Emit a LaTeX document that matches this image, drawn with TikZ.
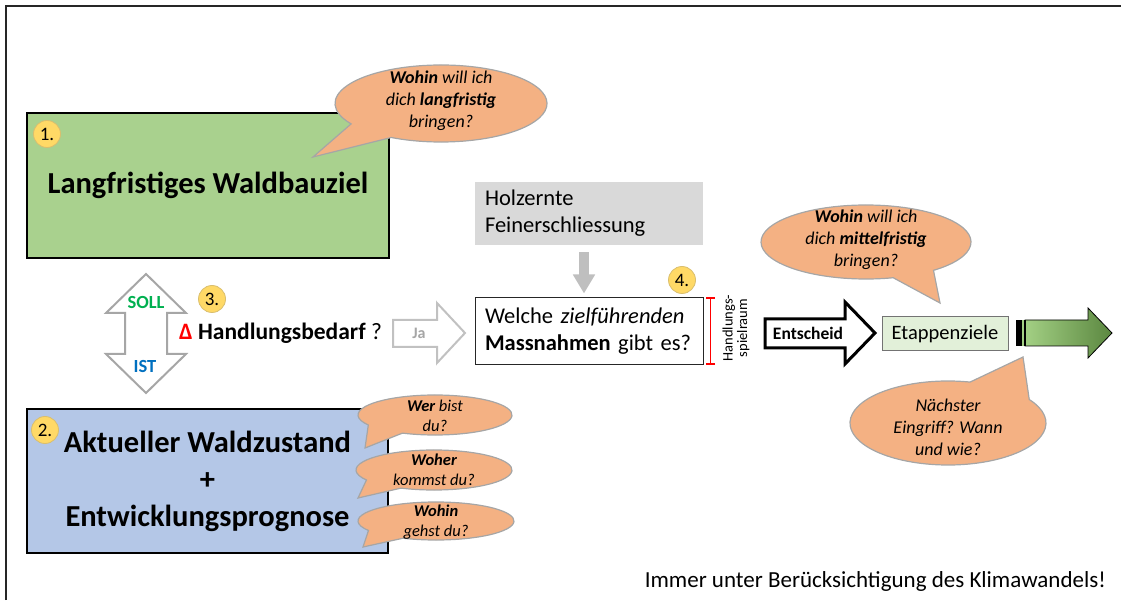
\documentclass[tikz,border=0pt]{standalone}
\usepackage{fontspec}
\setmainfont{Carlito}
\usetikzlibrary{arrows.meta,calc}
\definecolor{boxgreen}{HTML}{A9D18E}
\definecolor{boxblue}{HTML}{B4C7E7}
\definecolor{bubfill}{HTML}{F4B183}
\definecolor{bubline}{HTML}{A6A6A6}
\definecolor{badgefill}{HTML}{FFD966}
\definecolor{holzgray}{HTML}{D9D9D9}
\definecolor{arrgray}{HTML}{BFBFBF}
\definecolor{jagray}{HTML}{A6A6A6}
\definecolor{etapfill}{HTML}{E2F0D9}
\definecolor{sollgreen}{HTML}{00B050}
\definecolor{istblue}{HTML}{0070C0}
\definecolor{lightarr}{HTML}{A3D084}
\definecolor{darkarr}{HTML}{5B8740}
\newcommand\bub[8]{%
  \path[bubble] (#1,#2) ++(#5:#3pt and #4pt) arc[start angle=#5, end angle=#6, x radius=#3pt, y radius=#4pt] -- (#7,#8) -- cycle;}
\begin{document}
\begin{tikzpicture}[x=1pt,y=1pt,
  bigbox/.style={draw=black, line width=1.5pt, inner sep=0pt, font=\bfseries\fontsize{30.5}{37}\selectfont, align=center},
  badge/.style={circle, fill=badgefill, draw=badgefill!70!gray, line width=0.8pt, minimum size=27pt, inner sep=0pt, font=\fontsize{19}{19}\selectfont},
  bubble/.style={fill=bubfill, draw=bubline, line width=1.2pt},
  bubtext/.style={align=center, inner sep=0pt, font=\itshape\fontsize{18}{22}\selectfont},
  smalltext/.style={align=center, inner sep=0pt, font=\itshape\fontsize{16.5}{20.5}\selectfont},
  plainbox/.style={text width=208pt, align=left, inner xsep=10pt, inner ysep=0pt, minimum width=228pt, font=\fontsize{22.5}{27}\selectfont},
  ibeam/.style={red, line width=0.6pt, {Bar[width=9pt,line width=2pt]}-{Bar[width=9pt,line width=2pt]}}
]
\useasboundingbox (0,0) rectangle (1121,600);
% frame
\draw[line width=2pt, black!85] (6,0) -- (6,594) -- (1121,594);

% green box
\node[bigbox, fill=boxgreen, minimum width=362pt, minimum height=145pt] (ziel) at (208,414.5) {Langfristiges Waldbauziel};
\node[badge] (b1) at (47,466) {1.};
\bub{441}{496.5}{106}{38.5}{242}{572}{313}{443}
\node[bubtext] (t1) at (441,499) {\textbf{Wohin} will ich\\dich \textbf{langfristig}\\bringen?};

% blue box
\node[bigbox, fill=boxblue, minimum width=361pt, minimum height=144pt] (zustand) at (207.5,119) {Aktueller Waldzustand\\+\\Entwicklungsprognose};
\node[badge] (b2) at (45,170) {2.};
\bub{435}{185}{77}{20}{245}{570}{365}{152}
\node[smalltext] (t4) at (435,184) {\textbf{Wer} bist\\du?};
\bub{434}{130}{78}{20}{245}{570}{358}{102}
\node[smalltext] (t5) at (434,130) {\textbf{Woher}\\kommst du?};
\bub{436}{79}{78}{19}{245}{570}{363}{53}
\node[smalltext] (t6) at (436,78) {\textbf{Wohin}\\gehst du?};

% SOLL / IST double arrow
\draw[jagray, line width=2pt, fill=white] (146,326) -- (186,287) -- (167,287) -- (167,246) -- (186,246) -- (146,207) -- (106,246) -- (125,246) -- (125,287) -- (106,287) -- cycle;
\node[font=\bfseries\fontsize{18.5}{18.5}\selectfont, text=sollgreen] (soll) at (146,298) {SOLL};
\node[font=\bfseries\fontsize{18.5}{18.5}\selectfont, text=istblue] (ist) at (145,234) {IST};
\node[badge] (b3) at (212,301) {3.};
\node[anchor=west, inner sep=0pt, font=\fontsize{23.5}{23.5}\selectfont] (hb) at (179,267) {\textcolor{red}{\bfseries Δ} \textbf{Handlungsbedarf} ?};

% Ja arrow
\draw[jagray!70, line width=2pt, fill=white] (393,253) -- (393,280) -- (437,280) -- (437,297) -- (465,267) -- (437,237) -- (437,253) -- cycle;
\node[font=\bfseries\fontsize{16}{16}\selectfont, text=jagray] (ja) at (419,267) {Ja};

% Holzernte box and Massnahmen box
\node[plainbox, fill=holzgray, minimum height=63pt] (holz) at (589,386.5) {Holzernte\\Feinerschliessung};
\node[plainbox, draw=black!85, line width=1pt, fill=white, minimum height=67pt] (mass) at (589,268.5) {Welche \textit{zielführenden}\\\textbf{Massnahmen} gibt es?};
\draw[arrgray, line width=10pt, -{Triangle[width=21pt,length=19pt]}] ($(holz.south)+(-5,-7)$) -- ($(mass.north)+(-5,4)$);
\node[badge] (b4) at (682,320) {4.};
\draw[ibeam] ([xshift=7pt]mass.north east) -- ([xshift=7pt]mass.south east);
\node[rotate=90, align=center, inner sep=0pt, font=\fontsize{14.5}{14.5}\selectfont] (spiel) at (736,272) {Handlungs-\\spielraum};

% Entscheid arrow
\draw[black, line width=3pt, line join=miter, fill=white] (765,252) -- (765,281) -- (845,281) -- (845,298) -- (875,267) -- (845,236) -- (845,252) -- cycle;
\node[font=\bfseries\fontsize{17.5}{17.5}\selectfont] (ent) at (808,267) {Entscheid};

% Etappenziele
\node[draw=black!55, line width=1pt, fill=etapfill, minimum width=126pt, minimum height=34pt, inner sep=0pt, font=\fontsize{20.5}{20.5}\selectfont] (etap) at (945,266) {Etappenziele};

% green striped arrow
\shade[left color=lightarr, right color=darkarr, draw=black, line width=0.8pt] (1025,254) -- (1025,280) -- (1088,280) -- (1088,292) -- (1112,267) -- (1088,242) -- (1088,254) -- cycle;
\fill[lightarr] (1016,254) rectangle (1025,280);
\fill[black] (1016,254) rectangle (1021.5,280);
\fill[black] (1023.5,254) rectangle (1025.5,280);

% bubbles right
\bub{866}{358}{105}{37}{310}{645}{940}{297}
\node[bubtext] (t2) at (866,360) {\textbf{Wohin} will ich\\dich \textbf{mittelfristig}\\bringen?};
\bub{948}{177}{98}{42}{77}{394}{1023}{243}
\node[bubtext] (t3) at (948,173) {Nächster\\Eingriff? Wann\\und wie?};

% bottom note
\node[anchor=base east, inner sep=0pt, font=\fontsize{23}{27}\selectfont] (klima) at (1106,13) {Immer unter Berücksichtigung des Klimawandels!};
\end{tikzpicture}
\end{document}
